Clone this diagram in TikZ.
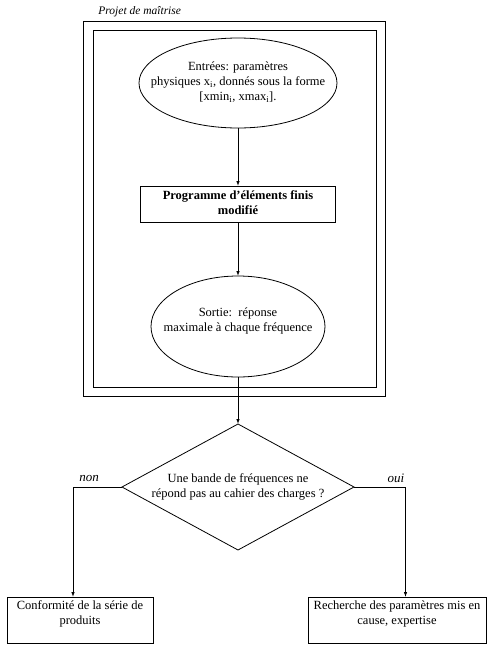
\documentclass[tikz,border=0pt]{standalone}
\usepackage{fontspec}
\setmainfont{Liberation Serif}
\usetikzlibrary{shapes.geometric,arrows.meta}
\begin{document}
\begin{tikzpicture}[x=1pt,y=-1pt,
  line width=0.8pt,
  txt/.style={font=\fontsize{12.5}{15}\selectfont, align=center, inner sep=0pt},
  lbl/.style={font=\fontsize{13}{15}\selectfont\itshape, inner sep=0pt},
  frame/.style={draw, inner sep=0pt, outer sep=0pt},
  oval/.style={draw, ellipse, inner sep=0pt, outer sep=0pt},
  dia/.style={draw, diamond, inner sep=0pt, outer sep=0pt},
  arr/.style={-{Latex[length=5pt,width=3.5pt]}}]
\useasboundingbox (0,0) rectangle (492,657);
% title
\node[lbl, font=\fontsize{11.5}{14}\selectfont\itshape, anchor=west] (title) at (98,12) {Projet de maîtrise};
% frames
\node[frame, minimum width=302pt, minimum height=375pt] (outer) at (234,208.5) {};
\node[frame, minimum width=283pt, minimum height=357pt] (inner) at (234.5,208.5) {};
% ellipse 1
\node[oval, minimum width=198pt, minimum height=90pt] (e1) at (238,83) {};
\node[txt] (e1t) at (238,82) {Entrées: paramètres\\physiques x\textsubscript{i}, donnés sous la forme\\{[}xmin\textsubscript{i}, xmax\textsubscript{i}].};
% program box
\node[frame, minimum width=195pt, minimum height=36pt] (prog) at (238,204) {};
\node[txt, font=\fontsize{12.5}{15}\selectfont\bfseries] (progt) at (238,202.5) {Programme d'éléments finis\\modifié};
% ellipse 2
\node[oval, minimum width=174pt, minimum height=101pt] (e2) at (238,326.5) {};
\node[txt] (e2t) at (238,321) {Sortie:\ \ réponse\\maximale à chaque fréquence};
% decision
\node[dia, minimum width=232pt, minimum height=126pt] (d) at (238,487) {};
\node[txt] (dt) at (238,486.5) {Une bande de fréquences ne\\répond pas au cahier des charges ?};
% result boxes
\node[frame, minimum width=146pt, minimum height=46pt] (bl) at (80,620) {};
\node[txt] (blt) at (80,614) {Conformité de la série de\\produits};
\node[frame, minimum width=178pt, minimum height=46pt] (br) at (397,620) {};
\node[txt] (brt) at (397,614) {Recherche des paramètres mis en\\cause, expertise};
% branch labels
\node[lbl] (non) at (89,478) {non};
\node[lbl] (oui) at (396,478) {oui};
\coordinate (cnon) at (73,487);
\coordinate (coui) at (405.5,487);
% connectors
\draw[arr] (e1.south) -- (prog.north);
\draw[arr] (prog.south) -- (e2.north);
\draw[arr] (e2.south) -- (d.north);
\draw[arr] (d.west) -- (cnon) -- (cnon |- bl.north);
\draw[arr] (d.east) -- (coui) -- (coui |- br.north);
\end{tikzpicture}
\end{document}
